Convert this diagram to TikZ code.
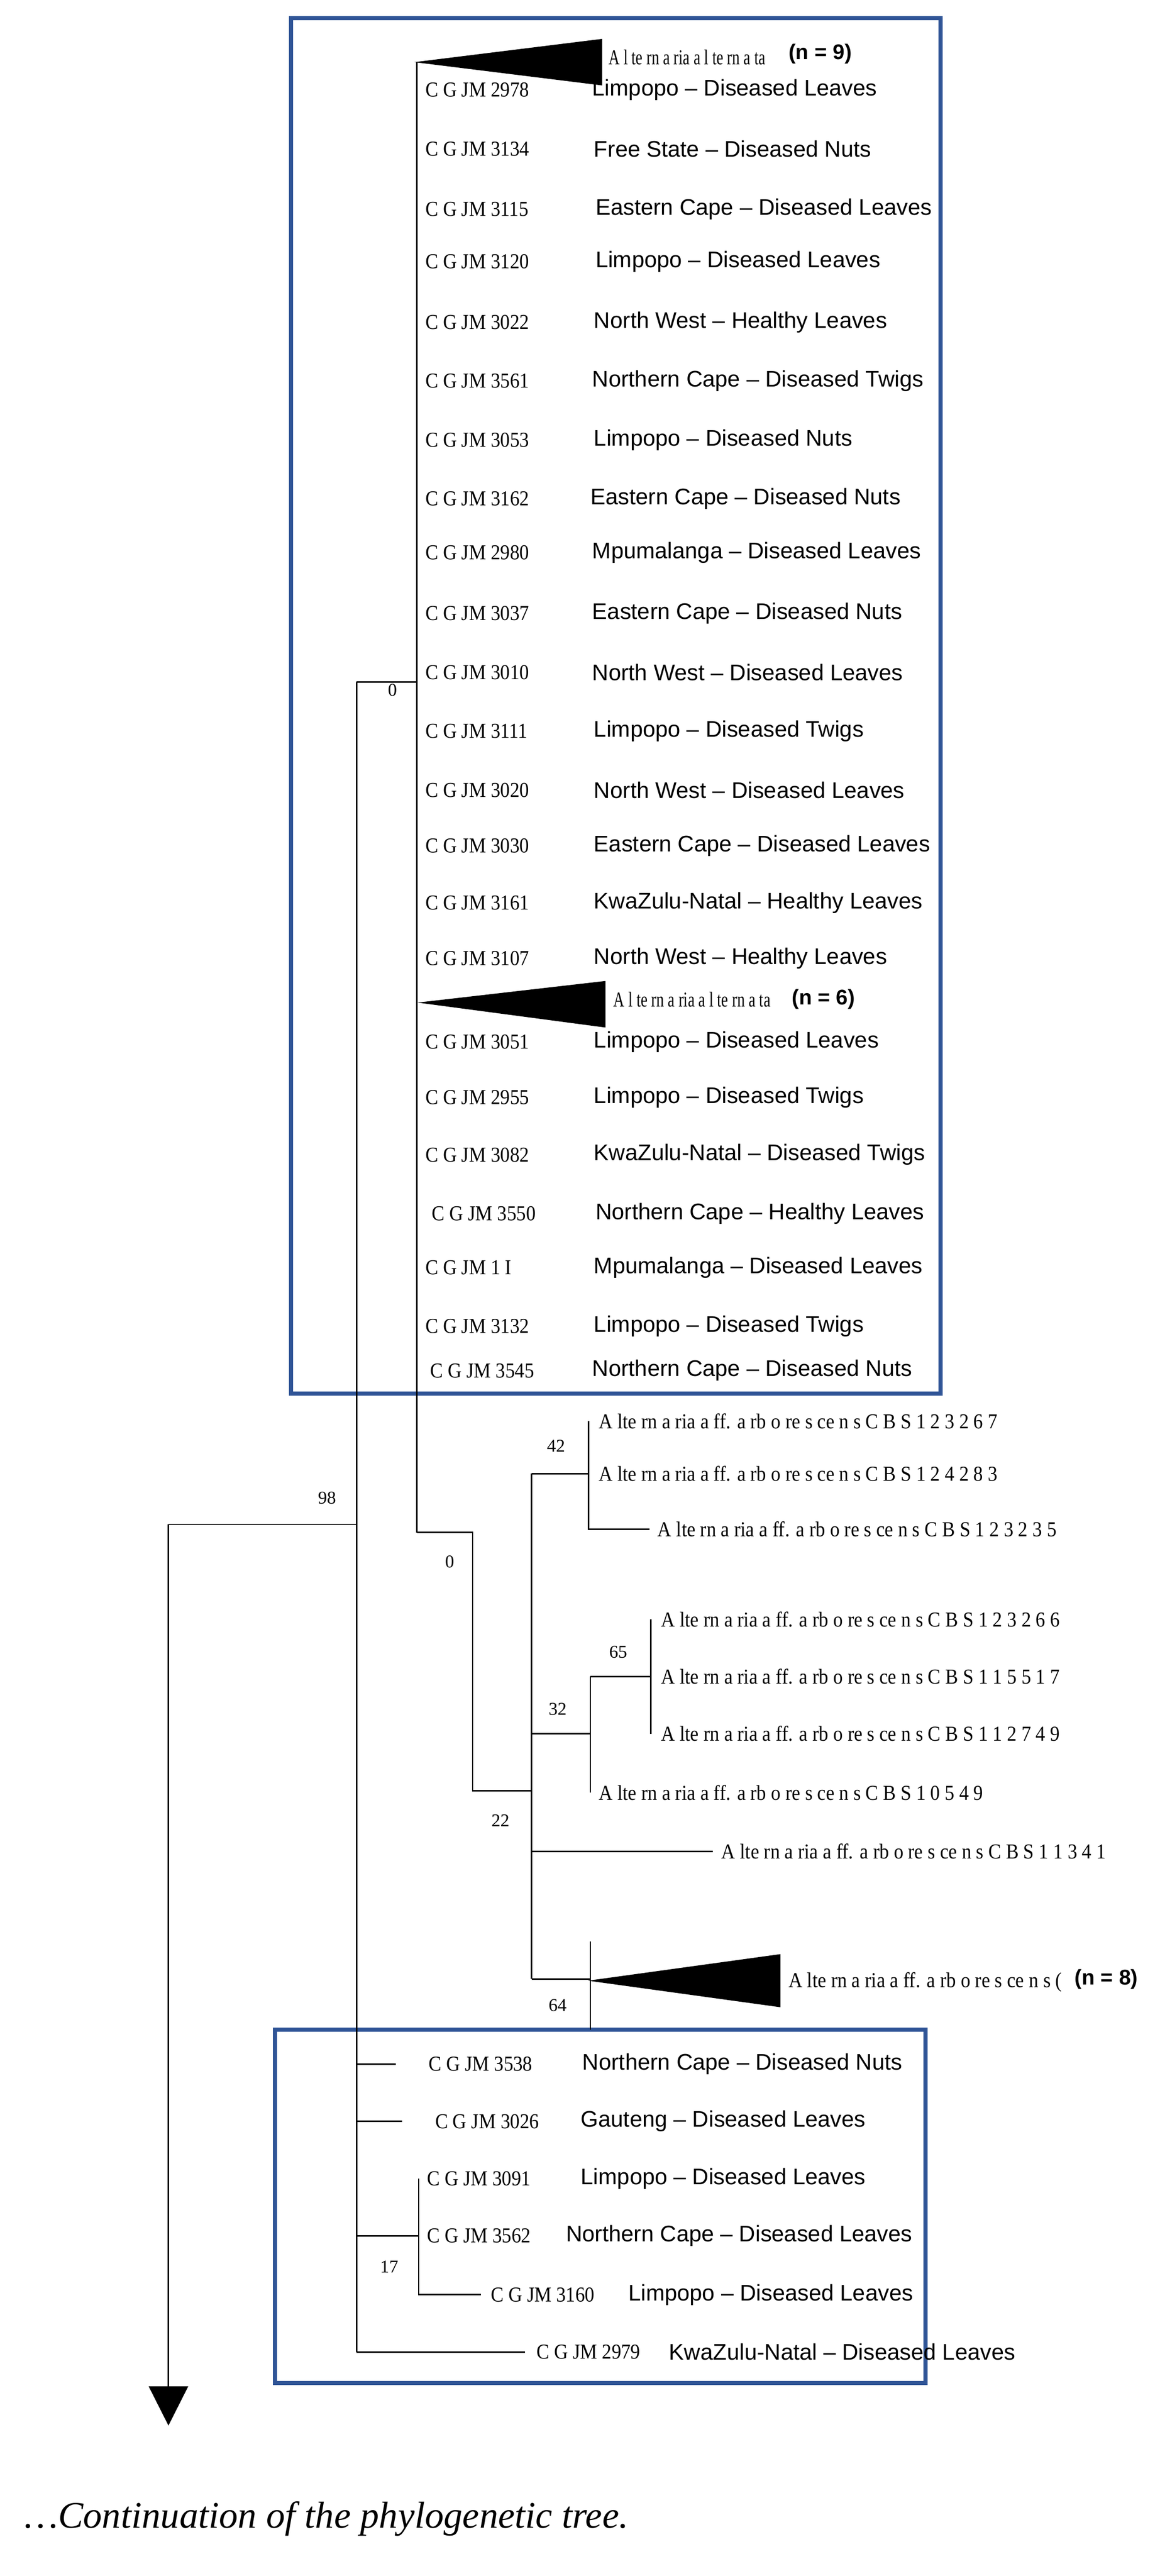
\documentclass[tikz,border=0pt]{standalone}
\usepackage{fontspec}
\setmainfont{Liberation Serif}
\newfontfamily\sansf{Liberation Sans}
\usetikzlibrary{arrows.meta}
\definecolor{boxblue}{RGB}{47,84,150}
\tikzset{
  br/.style={line width=0.9pt},
  box/.style={draw=boxblue,line width=2.6pt},
  code/.style={anchor=west,inner sep=0pt,font=\fontsize{13}{15}\selectfont},
  loc/.style={anchor=west,inner sep=0pt,font=\sansf\fontsize{13.8}{15}\selectfont},
  bold/.style={anchor=west,inner sep=0pt,font=\sansf\bfseries\fontsize{13}{15}\selectfont},
  sup/.style={inner sep=0pt,font=\fontsize{11}{12}\selectfont},
  clade/.style={fill=black,draw=black},
}
\newcommand{\cn}[1]{\scalebox{0.9}[1]{#1}}
\newcommand{\cnn}[1]{\scalebox{0.72}[1]{#1}}
\newcommand{\dd}{\textendash}
\begin{document}
\begin{tikzpicture}[x=1pt,y=-1pt]
\useasboundingbox (0,0) rectangle (709,1575);
% boxes
\draw[box] (178,11) rectangle (575,852);
\draw[box] (168,1241) rectangle (566,1457);
% root and arrow
\coordinate (r98) at (218,932);
\coordinate (arr) at (103,932);
\coordinate (arrEnd) at (103,1483);
\draw[br] (r98) -- (arr);
\draw[br,-{Triangle[width=24pt,length=24pt]}] (arr) -- (arrEnd);
\node[sup] (l98) at (200,916) {98};
\draw[br] (218,417) -- (218,1438);
\draw[br] (218,417) -- (255,417);
\node[sup] (l0a) at (240,422) {0};
% top clade line
\draw[br] (255,38) -- (255,937);
% triangles
\fill[clade] (255,38) -- (368,24) -- (368,52) -- cycle;
\node[code] (aa9) at (372,35) {\cnn{A l te rn a ria  a l te rn a ta}};
\node[bold] (n9) at (482,33) {(n = 9)};
\fill[clade] (257,613) -- (370,600) -- (370,628) -- cycle;
\node[code] (aa6) at (375,611) {\cnn{A l te rn a ria  a l te rn a ta}};
\node[bold] (n6) at (484,611) {(n = 6)};
% top clade leaves
\foreach \y/\c/\l/\lx in {
55/2978/Limpopo \dd{} Diseased Leaves/362,
91/3134/Free State \dd{} Diseased Nuts/363,
128/3115/Eastern Cape \dd{} Diseased Leaves/364,
160/3120/Limpopo \dd{} Diseased Leaves/364,
197/3022/North West \dd{} Healthy Leaves/363,
233/3561/Northern Cape \dd{} Diseased Twigs/362,
269/3053/Limpopo \dd{} Diseased Nuts/363,
305/3162/Eastern Cape \dd{} Diseased Nuts/361,
338/2980/Mpumalanga \dd{} Diseased Leaves/362,
375/3037/Eastern Cape \dd{} Diseased Nuts/362,
411/3010/North West \dd{} Diseased Leaves/362,
447/3111/Limpopo \dd{} Diseased Twigs/363,
483/3020/North West \dd{} Diseased Leaves/363,
517/3030/Eastern Cape \dd{} Diseased Leaves/363,
552/3161/KwaZulu-Natal \dd{} Healthy Leaves/363,
586/3107/North West \dd{} Healthy Leaves/363,
637/3051/Limpopo \dd{} Diseased Leaves/363,
671/2955/Limpopo \dd{} Diseased Twigs/363,
706/3082/KwaZulu-Natal \dd{} Diseased Twigs/363,
811/3132/Limpopo \dd{} Diseased Twigs/363}{
  \node[code] (c\c) at (260,\y) {\cn{C G JM \c}};
  \node[loc] (t\c) at (\lx,\y) {\l};
}
\node[code] (c3550) at (264,742) {\cn{C G JM 3550}};
\node[loc] (t3550) at (364,742) {Northern Cape \dd{} Healthy Leaves};
\node[code] (c1I) at (260,775) {\cn{C G JM 1 I}};
\node[loc] (t1I) at (363,775) {Mpumalanga \dd{} Diseased Leaves};
\node[code] (c3545) at (263,838) {\cn{C G JM 3545}};
\node[loc] (t3545) at (362,838) {Northern Cape \dd{} Diseased Nuts};
% 0 node
\draw[br] (255,937) -- (289,937) -- (289,1095) -- (325,1095);
\node[sup] (l0b) at (275,955) {0};
\draw[br] (325,901) -- (325,1210);
\node[sup] (l22) at (306,1113) {22};
% 42
\draw[br] (325,901) -- (360,901);
\draw[br] (360,869) -- (360,935) -- (397,935);
\node[sup] (l42) at (340,884) {42};
\node[code] (a1) at (366,869) {\cn{A lte rn a ria  a ff.  a rb o re s ce n s  C B S 1 2 3 2 6 7}};
\node[code] (a2) at (366,901) {\cn{A lte rn a ria  a ff.  a rb o re s ce n s  C B S 1 2 4 2 8 3}};
\node[code] (a3) at (402,935) {\cn{A lte rn a ria  a ff.  a rb o re s ce n s  C B S 1 2 3 2 3 5}};
% 32 / 65
\draw[br] (325,1060) -- (361,1060);
\draw[br] (361,1025) -- (361,1096);
\draw[br] (361,1025) -- (398,1025);
\draw[br] (398,990) -- (398,1060);
\node[sup] (l65) at (378,1010) {65};
\node[sup] (l32) at (341,1045) {32};
\node[code] (a4) at (404,990) {\cn{A lte rn a ria  a ff.  a rb o re s ce n s  C B S 1 2 3 2 6 6}};
\node[code] (a5) at (404,1025) {\cn{A lte rn a ria  a ff.  a rb o re s ce n s  C B S 1 1 5 5 1 7}};
\node[code] (a6) at (404,1060) {\cn{A lte rn a ria  a ff.  a rb o re s ce n s  C B S 1 1 2 7 4 9}};
\node[code] (a7) at (366,1096) {\cn{A lte rn a ria  a ff.  a rb o re s ce n s  C B S 1 0 5  4 9}};
\draw[br] (325,1132) -- (436,1132);
\node[code] (a8) at (441,1132) {\cn{A lte rn a ria  a ff.  a rb o re s ce n s  C B S 1 1 3  4 1}};
% 64
\draw[br] (325,1210) -- (361,1210);
\draw[br] (361,1187) -- (361,1241);
\node[sup] (l64) at (341,1226) {64};
\fill[clade] (361,1211) -- (477,1195) -- (477,1227) -- cycle;
\node[code] (a9) at (482,1212) {\cn{A lte rn a ria  a ff.  a rb o re s ce n s  (}};
\node[bold] (n8) at (657,1210) {(n = 8)};
% bottom leaves
\draw[br] (218,1262) -- (242,1262);
\node[code] (c3538) at (262,1262) {\cn{C G JM 3538}};
\node[loc] (t3538) at (356,1262) {Northern Cape \dd{} Diseased Nuts};
\draw[br] (218,1297) -- (246,1297);
\node[code] (c3026) at (266,1297) {\cn{C G JM 3026}};
\node[loc] (t3026) at (355,1297) {Gauteng \dd{} Diseased Leaves};
\draw[br] (218,1367) -- (256,1367);
\draw[br] (256,1332) -- (256,1403) -- (294,1403);
\node[sup] (l17) at (238,1386) {17};
\node[code] (c3091) at (261,1332) {\cn{C G JM 3091}};
\node[loc] (t3091) at (355,1332) {Limpopo \dd{} Diseased Leaves};
\node[code] (c3562) at (261,1367) {\cn{C G JM 3562}};
\node[loc] (t3562) at (346,1367) {Northern Cape \dd{} Diseased Leaves};
\node[code] (c3160) at (300,1403) {\cn{C G JM 3160}};
\node[loc] (t3160) at (384,1403) {Limpopo \dd{} Diseased Leaves};
\draw[br] (218,1438) -- (321,1438);
\node[code] (c2979) at (328,1438) {\cn{C G JM 2979}};
\node[loc] (t2979) at (409,1438) {KwaZulu-Natal \dd{} Diseased Leaves};
% caption
\node[anchor=west,inner sep=0pt,font=\itshape\fontsize{23}{27}\selectfont] (cap) at (15,1540) {\ldots Continuation of the phylogenetic tree.};
\end{tikzpicture}
\end{document}
